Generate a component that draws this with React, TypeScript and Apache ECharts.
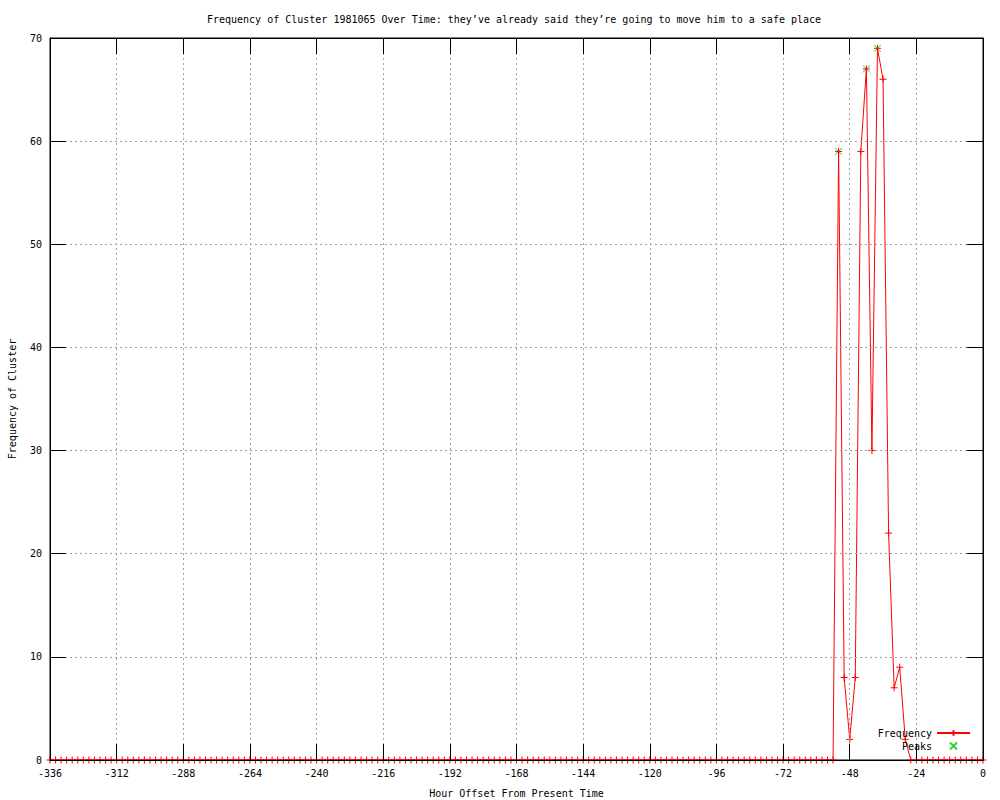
import React, { useEffect, useRef } from "react";
import * as echarts from "echarts";

const TITLE = "Frequency of Cluster 1981065 Over Time: they’ve already said they’re going to move him to a safe place";
const X_NAME = "Hour Offset From Present Time";
const Y_NAME = "Frequency of Cluster";

// hour offsets, one sample every 2 hours from -336 to 0
const hourStart = -336;
const hourStep = 2;

const frequency = [
  0, 0, 0, 0, 0, 0, 0, 0, 0, 0, 0, 0, // -336 .. -314
  0, 0, 0, 0, 0, 0, 0, 0, 0, 0, 0, 0, // -312 .. -290
  0, 0, 0, 0, 0, 0, 0, 0, 0, 0, 0, 0, // -288 .. -266
  0, 0, 0, 0, 0, 0, 0, 0, 0, 0, 0, 0, // -264 .. -242
  0, 0, 0, 0, 0, 0, 0, 0, 0, 0, 0, 0, // -240 .. -218
  0, 0, 0, 0, 0, 0, 0, 0, 0, 0, 0, 0, // -216 .. -194
  0, 0, 0, 0, 0, 0, 0, 0, 0, 0, 0, 0, // -192 .. -170
  0, 0, 0, 0, 0, 0, 0, 0, 0, 0, 0, 0, // -168 .. -146
  0, 0, 0, 0, 0, 0, 0, 0, 0, 0, 0, 0, // -144 .. -122
  0, 0, 0, 0, 0, 0, 0, 0, 0, 0, 0, 0, // -120 .. -98
  0, 0, 0, 0, 0, 0, 0, 0, 0, 0, 0, 0, // -96 .. -74
  0, 0, 0, 0, 0, 0, 0, 0, 0, 0, 59, 8, // -72 .. -50
  2, 8, 59, 67, 30, 69, 66, 22, 7, 9, 2, 0, // -48 .. -26
  0, 0, 0, 0, 0, 0, 0, 0, 0, 0, 0, 0, // -24 .. -2
  0, // 0
];

const peakHours = [-52, -42, -38];
const peakValues = [59, 67, 69];

const xTicks = { min: -336, max: 0, interval: 24 };
const yTicks = { min: 0, max: 70, interval: 10 };

const FONT = "DejaVu Sans Mono";
const PLUS = "path://M0,5L10,5M5,0L5,10";
const CROSS = "path://M0,0L10,10M0,10L10,0";

export default function App() {
  const ref = useRef<HTMLDivElement>(null);

  useEffect(() => {
    if (!ref.current) return;
    const chart = echarts.init(ref.current, null, { renderer: "svg" });

    const freqData = frequency.map((v, i) => [hourStart + i * hourStep, v]);
    const peakData = peakHours.map((h, i) => [h, peakValues[i]]);

    const text = { fontFamily: FONT, fontSize: 10, color: "#000" };
    const split = { show: true, lineStyle: { color: "#a0a0a0", width: 1, type: [2, 3] as any } };
    const line = { show: true, onZero: false, lineStyle: { color: "#000", width: 1 } };
    const tick = { show: true, inside: true, length: 16, lineStyle: { color: "#000", width: 1 } };

    chart.setOption({
      animation: false,
      backgroundColor: "#fff",
      title: {
        text: TITLE,
        left: 509,
        top: 9,
        textAlign: "center",
        textStyle: { ...text, fontWeight: "normal" },
      },
      grid: {
        left: 50,
        right: 17,
        top: 38,
        bottom: 40,
        containLabel: false,
        outerBoundsMode: "none",
        show: true,
        borderColor: "#000",
        borderWidth: 1,
        backgroundColor: "transparent",
      },
      legend: [
        {
          data: ["Frequency"],
          orient: "vertical",
          align: "right",
          right: 24,
          top: 723,
          itemWidth: 33,
          itemHeight: 7,
          textStyle: text,
          selectedMode: false,
        },
        {
          data: ["Peaks"],
          orient: "vertical",
          align: "right",
          right: 37,
          top: 736,
          itemWidth: 33,
          itemHeight: 7,
          textStyle: text,
          selectedMode: false,
        },
      ],
      xAxis: [
        {
          type: "value",
          ...xTicks,
          position: "bottom",
          z: 5,
          name: X_NAME,
          nameLocation: "middle",
          nameGap: 28,
          nameTextStyle: text,
          axisLine: line,
          axisTick: tick,
          axisLabel: { ...text, margin: 8 },
          splitLine: split,
        },
        {
          type: "value",
          ...xTicks,
          position: "top",
          z: 5,
          axisLine: line,
          axisTick: tick,
          axisLabel: { show: false },
          splitLine: { show: false },
        },
      ],
      yAxis: [
        {
          type: "value",
          ...yTicks,
          position: "left",
          z: 5,
          name: Y_NAME,
          nameLocation: "middle",
          nameGap: 33,
          nameRotate: 90,
          nameTextStyle: text,
          axisLine: line,
          axisTick: tick,
          axisLabel: { ...text, margin: 8 },
          splitLine: split,
        },
        {
          type: "value",
          ...yTicks,
          position: "right",
          z: 5,
          axisLine: line,
          axisTick: tick,
          axisLabel: { show: false },
          splitLine: { show: false },
        },
      ],
      series: [
        {
          name: "Frequency",
          type: "line",
          xAxisIndex: 0,
          yAxisIndex: 0,
          data: freqData,
          showSymbol: true,
          showAllSymbol: true,
          symbol: PLUS,
          symbolSize: 7,
          lineStyle: { color: "#ff0000", width: 1 },
          itemStyle: { color: "#ff0000", borderColor: "#ff0000", borderWidth: 1 },
          emphasis: { disabled: true },
        },
        {
          name: "Peaks",
          type: "scatter",
          xAxisIndex: 0,
          yAxisIndex: 0,
          data: peakData,
          symbol: CROSS,
          symbolSize: 7,
          itemStyle: { color: "#00c000", borderColor: "#00c000", borderWidth: 1 },
          emphasis: { disabled: true },
        },
      ],
    });

    return () => chart.dispose();
  }, []);

  return (
    <div
      ref={ref}
      style={{ position: "fixed", left: 0, top: 0, width: 1000, height: 800 }}
    />
  );
}
